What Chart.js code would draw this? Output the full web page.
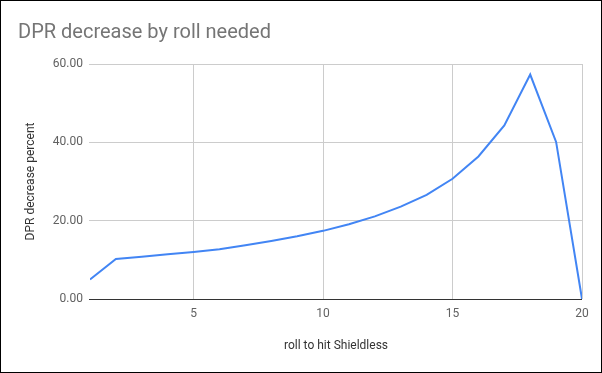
<!DOCTYPE html>
<html>
<head>
<meta charset="utf-8">
<script src="https://cdn.jsdelivr.net/npm/chart.js@4"></script>
<style>
  html, body { margin: 0; padding: 0; background: #fff; }
  #wrap { width: 600px; height: 371px; border: 1px solid #000; position: relative; }
  canvas { display: block; }
</style>
</head>
<body>
<div id="wrap"><canvas id="c" width="600" height="371"></canvas></div>
<script>
const rolls = [1,2,3,4,5,6,7,8,9,10,11,12,13,14,15,16,17,18,19,20];
const dprDecrease = [5.0, 10.2, 10.8, 11.4, 12.0, 12.7, 13.7, 14.8, 16.0, 17.4, 19.1, 21.1, 23.6, 26.6, 30.7, 36.4, 44.3, 57.3, 40.1, 0];
const xTicks = [5, 10, 15, 20];
const yTicks = [0, 20, 40, 60];
const titleText = 'DPR decrease by roll needed';
const xTitle = 'roll to hit Shieldless';
const yTitle = 'DPR decrease percent';

const FONT = 'Roboto, "Noto Sans", sans-serif';

new Chart(document.getElementById('c'), {
  type: 'line',
  data: {
    datasets: [{
      data: rolls.map((r, i) => ({ x: r, y: dprDecrease[i] })),
      borderColor: '#4285F4',
      borderWidth: 2,
      pointRadius: 0,
      tension: 0,
      fill: false
    }]
  },
  options: {
    responsive: false,
    animation: false,
    layout: { padding: { left: 17, right: 19, top: 0, bottom: 0 } },
    plugins: {
      legend: { display: false },
      tooltip: { enabled: false },
      title: {
        display: true,
        text: titleText,
        align: 'start',
        color: '#757575',
        font: { family: FONT, size: 20, weight: 'normal' },
        padding: { top: 20, bottom: 19 }
      }
    },
    scales: {
      x: {
        type: 'linear',
        min: 1,
        max: 20,
        afterBuildTicks: (s) => { s.ticks = xTicks.map(v => ({ value: v })); },
        afterFit: (s) => { s.height = 73; },
        grid: { color: '#cccccc', drawTicks: false, lineWidth: 1 },
        border: { display: false },
        ticks: {
          color: '#616161',
          font: { family: FONT, size: 12 },
          padding: 8,
          maxRotation: 0
        },
        title: {
          display: true,
          text: xTitle,
          color: '#333333',
          font: { family: FONT, size: 12 },
          padding: { top: 0, bottom: 19 }
        }
      },
      y: {
        min: 0,
        max: 60,
        afterBuildTicks: (s) => { s.ticks = yTicks.map(v => ({ value: v })); },
        afterFit: (s) => { s.width = 72; },
        grid: {
          color: (ctx) => ctx.tick && ctx.tick.value === 0 ? '#333333' : '#cccccc',
          drawTicks: true,
          tickLength: 1,
          lineWidth: 1
        },
        border: { display: false },
        ticks: {
          color: '#616161',
          font: { family: FONT, size: 12 },
          padding: 6,
          callback: (v) => Number(v).toFixed(2)
        },
        title: {
          display: true,
          text: yTitle,
          color: '#333333',
          font: { family: FONT, size: 12 },
          padding: { top: 6, bottom: 0 }
        }
      }
    }
  }
});
</script>
</body>
</html>
